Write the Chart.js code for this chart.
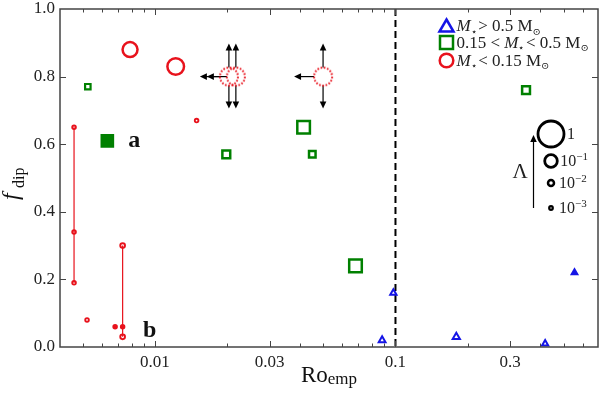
<!DOCTYPE html>
<html><head><meta charset="utf-8">
<script src="https://cdn.jsdelivr.net/npm/chart.js@4.4.0/dist/chart.umd.min.js"></script>
<style>html,body{margin:0;padding:0;background:#fff}#wrap{width:600px;height:396px;position:relative}</style>
</head><body><div id="wrap"><canvas id="c" width="600" height="396"></canvas></div>
<script>
// ---------- DATA ----------
const xTickValues = [0.01, 0.03, 0.1, 0.3];
const xTickLabels = ['0.01', '0.03', '0.1', '0.3'];
const yTickValues = [0, 0.2, 0.4, 0.6, 0.8, 1.0];
const yTickLabels = ['0.0', '0.2', '0.4', '0.6', '0.8', '1.0'];
const roBoundary = 0.1;

// M* > 0.5 Msun (blue triangles)
const hiRo = [0.088, 0.098, 0.179, 0.419, 0.555];
const hiF = [0.02, 0.16, 0.03, 0.01, 0.22];
const hiLambda = [0.012, 0.010, 0.014, 0.009, 0.006];
const hiFilled = [false, false, false, false, true];

// 0.15 < M* < 0.5 Msun (green squares)
const midRo = [0.00526, 0.00634, 0.0198, 0.0415, 0.0451, 0.349, 0.0682];
const midF = [0.77, 0.61, 0.57, 0.65, 0.57, 0.76, 0.24];
const midLambda = [0.006, 0.06, 0.019, 0.1, 0.012, 0.019, 0.1];
const midFilled = [false, true, false, false, false, false, false];

// M* < 0.15 Msun (red circles)
const loRo = [0.00788, 0.0122, 0.00461, 0.00461, 0.00461, 0.00522, 0.00683, 0.00734, 0.00734, 0.00734, 0.0149];
const loF = [0.88, 0.83, 0.65, 0.34, 0.19, 0.08, 0.06, 0.30, 0.06, 0.03, 0.67];
const loLambda = [0.15, 0.2, 0.001, 0.001, 0.001, 0.001, 0.001, 0.003, 0.001, 0.003, 0.001];
const loFilled = [false, false, false, false, false, false, true, false, true, false, false];

// limits (dotted red circles with arrows)
const limRo = [0.0203, 0.0217, 0.050];
const limF = [0.80, 0.80, 0.80];

// linked measurements of the same star
const linkRo = [0.00461, 0.00734];
const linkTop = [0.65, 0.30];
const linkBottom = [0.19, 0.03];

// letter labels attached to points
const letterText = ['a', 'b'];
const letterRo = [0.00634, 0.00734];
const letterF = [0.61, 0.06];

// size legend
const legendLambda = [1, 0.1, 0.01, 0.001];
const legendLambdaLabels = [['1', ''], ['10', '\u22121'], ['10', '\u22122'], ['10', '\u22123']];

// ---------- STYLE ----------
const RED = '#e8121c', GREEN = '#008000', BLUE = '#1515e6';
const SERIF = '"Liberation Serif", "DejaVu Serif", serif';
const FRAME = '#444';

function radius(l) {
  const g = Math.log10(l);
  const T = [[-3, 1.8], [-2, 3], [-1, 6.3], [0, 13]];
  let i = 0; if (g > -2) i = 1; if (g > -1) i = 2;
  const [g0, r0] = T[i], [g1, r1] = T[i + 1];
  return Math.max(1, r0 + (r1 - r0) * (g - g0) / (g1 - g0));
}
const bw = r => r > 5 ? 2.5 : (r > 2.5 ? 2.2 : 1.9);

function dottedCircle() {
  const c = document.createElement('canvas');
  c.width = 24; c.height = 24;
  const g = c.getContext('2d');
  g.strokeStyle = RED; g.lineWidth = 2; g.setLineDash([1.6, 1.7]);
  g.beginPath(); g.arc(12, 12, 9, 0, Math.PI * 2); g.stroke();
  return c;
}

function pts(xs, ys) { return xs.map((v, i) => ({ x: v, y: ys[i] })); }

const datasets = [];
datasets.push({
  label: 'hi', data: pts(hiRo, hiF), pointStyle: 'triangle', clip: false,
  pointRadius: hiLambda.map(l => radius(l) * 1.2),
  pointBorderWidth: hiLambda.map(l => 2),
  pointBorderColor: BLUE,
  pointBackgroundColor: hiFilled.map(f => f ? BLUE : 'rgba(0,0,0,0)')
});
datasets.push({
  label: 'mid', data: pts(midRo, midF), pointStyle: 'rect', clip: false,
  pointRadius: midLambda.map(l => radius(l) * Math.SQRT2),
  pointBorderWidth: midLambda.map(l => bw(radius(l) * 1.6)),
  pointBorderColor: GREEN,
  pointBackgroundColor: midFilled.map(f => f ? GREEN : 'rgba(0,0,0,0)')
});
datasets.push({
  label: 'lo', data: pts(loRo, loF), pointStyle: 'circle', clip: false,
  pointRadius: loLambda.map(l => radius(l)),
  pointBorderWidth: loLambda.map(l => bw(radius(l))),
  pointBorderColor: RED,
  pointBackgroundColor: loFilled.map(f => f ? RED : 'rgba(0,0,0,0)')
});
datasets.push({
  label: 'lim', data: pts(limRo, limF), pointStyle: dottedCircle(), clip: false, pointRadius: 9
});
linkRo.forEach((r, i) => {
  datasets.push({
    label: 'link' + i, data: [{ x: r, y: linkTop[i] }, { x: r, y: linkBottom[i] }],
    showLine: true, borderColor: RED, borderWidth: 1.2, pointRadius: 0, clip: false
  });
});

function arrow(ctx, x0, y0, x1, y1) {
  const ang = Math.atan2(y1 - y0, x1 - x0), L = 7, W = 3.3;
  ctx.beginPath(); ctx.moveTo(x0, y0);
  ctx.lineTo(x1 - Math.cos(ang) * L * 0.8, y1 - Math.sin(ang) * L * 0.8); ctx.stroke();
  ctx.beginPath();
  ctx.moveTo(x1, y1);
  ctx.lineTo(x1 - Math.cos(ang) * L - Math.sin(ang) * W, y1 - Math.sin(ang) * L + Math.cos(ang) * W);
  ctx.lineTo(x1 - Math.cos(ang) * L + Math.sin(ang) * W, y1 - Math.sin(ang) * L - Math.cos(ang) * W);
  ctx.closePath(); ctx.fill();
}

function runs(ctx, x, y, list, base) {
  for (const r of list) {
    const s = r.s || base;
    ctx.font = (r.b ? 'bold ' : '') + (r.i ? 'italic ' : '') + s + 'px ' + SERIF;
    ctx.fillText(r.t, x, y + (r.dy || 0));
    x += ctx.measureText(r.t).width + (r.gap || 0);
  }
  return x;
}
function runsWidth(ctx, list, base) {
  let w = 0;
  for (const r of list) {
    const s = r.s || base;
    ctx.font = (r.b ? 'bold ' : '') + (r.i ? 'italic ' : '') + s + 'px ' + SERIF;
    w += ctx.measureText(r.t).width + (r.gap || 0);
  }
  return w;
}

const deco = {
  id: 'deco',
  beforeDatasetsDraw(chart) {
    const { ctx, chartArea: a, scales: { x, y } } = chart;
    ctx.save();
    const px = x.getPixelForValue(roBoundary);
    ctx.strokeStyle = '#000'; ctx.lineWidth = 2; ctx.setLineDash([7, 4]);
    ctx.beginPath(); ctx.moveTo(px, a.top); ctx.lineTo(px, a.bottom); ctx.stroke();
    ctx.setLineDash([]);
    ctx.lineWidth = 1.2; ctx.strokeStyle = '#000'; ctx.fillStyle = '#000';
    limRo.forEach((r, i) => {
      const cx = x.getPixelForValue(r), cy = y.getPixelForValue(limF[i]);
      arrow(ctx, cx - 9, cy, cx - 29, cy);
      arrow(ctx, cx, cy - 9, cx, cy - 33);
      arrow(ctx, cx, cy + 9, cx, cy + 32);
    });
    ctx.restore();
  },
  afterDraw(chart) {
    const { ctx, chartArea: a, scales: { x, y } } = chart;
    ctx.save();
    // frame
    ctx.strokeStyle = FRAME; ctx.lineWidth = 1.5;
    ctx.strokeRect(a.left, a.top, a.right - a.left, a.bottom - a.top);
    // ticks
    ctx.lineWidth = 1;
    const tick = (px, len, horiz) => {
      ctx.beginPath();
      if (horiz) {
        ctx.moveTo(px, a.bottom); ctx.lineTo(px, a.bottom - len);
        ctx.moveTo(px, a.top); ctx.lineTo(px, a.top + len);
      } else {
        ctx.moveTo(a.left, px); ctx.lineTo(a.left + len, px);
        ctx.moveTo(a.right, px); ctx.lineTo(a.right - len, px);
      }
      ctx.stroke();
    };
    xTickValues.forEach(v => tick(Math.round(x.getPixelForValue(v)) + 0.5, 6, true));
    [0.001, 0.01, 0.1].forEach(d => {
      for (let k = 2; k <= 9; k++) {
        const v = k * d;
        if (v < x.min || v > x.max) continue;
        if (xTickValues.some(t => Math.abs(t - v) < 1e-9)) continue;
        tick(Math.round(x.getPixelForValue(v)) + 0.5, 3.5, true);
      }
    });
    yTickValues.slice(1, -1).forEach(v => tick(Math.round(y.getPixelForValue(v)) + 0.5, 6, false));

    ctx.fillStyle = '#111';
    ctx.textBaseline = 'alphabetic'; ctx.textAlign = 'left';
    // x title
    const xt = [{ t: 'Ro', s: 23 }, { t: 'emp', s: 17, dy: 2 }];
    const xw = runsWidth(ctx, xt, 23);
    runs(ctx, (a.left + a.right) / 2 - xw / 2, 382, xt, 23);
    // y title
    ctx.save();
    ctx.translate(18, (a.top + a.bottom) / 2 + 22);
    ctx.rotate(-Math.PI / 2);
    ctx.font = 'italic 24px ' + SERIF; ctx.fillText('f', 0, 0);
    ctx.font = '16px ' + SERIF; ctx.fillText('dip', 12, 6);
    ctx.restore();

    // letters
    ctx.font = 'bold 24px ' + SERIF;
    const ldy = [6, 10];
    letterText.forEach((t, i) => {
      const px = x.getPixelForValue(letterRo[i]) + 27, py = y.getPixelForValue(letterF[i]) + ldy[i];
      ctx.textAlign = 'center';
      ctx.fillText(t, px, py);
    });
    ctx.textAlign = 'left';

    // marker legend
    const mx = a.right - 151.5, rows = [a.top + 17, a.top + 33.5, a.top + 51.5];
    ctx.lineWidth = 2.5;
    ctx.strokeStyle = BLUE;
    ctx.beginPath(); ctx.moveTo(mx, rows[0] - 6.5); ctx.lineTo(mx + 7, rows[0] + 5.5); ctx.lineTo(mx - 7, rows[0] + 5.5); ctx.closePath(); ctx.stroke();
    ctx.strokeStyle = GREEN; ctx.strokeRect(mx - 6.5, rows[1] - 6.5, 13, 13);
    ctx.strokeStyle = RED; ctx.beginPath(); ctx.arc(mx, rows[2], 6.8, 0, Math.PI * 2); ctx.stroke();
    const star = { t: '\u22C6', s: 10, dy: 3.5, gap: 1.5 }, sun = { t: '\u2299', s: 10, dy: 3.5 };
    const lx = mx + 10;
    ctx.fillStyle = '#222';
    runs(ctx, lx, rows[0] + 5, [{ t: 'M', i: 1 }, star, { t: '> 0.5 M' }, sun], 17);
    runs(ctx, lx, rows[1] + 5, [{ t: '0.15 < ' }, { t: 'M', i: 1 }, star, { t: '< 0.5 M' }, sun], 17);
    runs(ctx, lx, rows[2] + 5, [{ t: 'M', i: 1 }, star, { t: '< 0.15 M' }, sun], 17);

    // size legend
    const cx = a.right - 47, cys = [a.top + 125, a.top + 152, a.top + 174, a.top + 199];
    ctx.strokeStyle = '#000'; ctx.fillStyle = '#222';
    legendLambda.forEach((l, i) => {
      const r = radius(l);
      ctx.lineWidth = bw(r) + 0.3;
      ctx.beginPath(); ctx.arc(cx, cys[i], r, 0, Math.PI * 2); ctx.stroke();
      const tx = Math.max(cx + r + 3, cx + 8);
      const [b, e] = legendLambdaLabels[i];
      const list = [{ t: b }];
      if (e) list.push({ t: e, s: 11, dy: -6.5 });
      runs(ctx, tx, cys[i] + 5, list, 16);
    });
    ctx.lineWidth = 1.2; ctx.fillStyle = '#000'; ctx.strokeStyle = '#000';
    arrow(ctx, a.right - 64.5, a.top + 199, a.right - 64.5, a.top + 126);
    ctx.font = '21px ' + SERIF; ctx.textAlign = 'center'; ctx.fillStyle = '#222';
    ctx.fillText('\u039B', a.right - 78, a.top + 169);
    ctx.restore();
  }
};

new Chart(document.getElementById('c'), {
  type: 'scatter',
  data: { datasets },
  options: {
    responsive: false, animation: false, events: [],
    layout: { autoPadding: false, padding: { top: 9, right: 2, left: 0, bottom: 0 } },
    plugins: { legend: { display: false }, tooltip: { enabled: false } },
    scales: {
      x: {
        type: 'logarithmic', min: 0.00403, max: 0.695, bounds: 'data',
        afterBuildTicks: s => { s.ticks = xTickValues.map(v => ({ value: v })); },
        afterFit: s => { s.height = 49; s.paddingLeft = 0; s.paddingRight = 0; },
        grid: { display: false, drawTicks: false }, border: { display: false },
        ticks: {
          autoSkip: false, maxRotation: 0, padding: 5, color: '#222',
          font: { family: SERIF, size: 17 },
          callback: (v, i) => xTickLabels[i]
        }
      },
      y: {
        type: 'linear', min: 0, max: 1,
        afterBuildTicks: s => { s.ticks = yTickValues.map(v => ({ value: v })); },
        afterFit: s => { s.width = 60; s.paddingTop = 0; s.paddingBottom = 0; },
        grid: { display: false, drawTicks: false }, border: { display: false },
        ticks: {
          padding: 5, color: '#222',
          font: { family: SERIF, size: 17 },
          callback: (v, i) => yTickLabels[i]
        }
      }
    }
  },
  plugins: [deco]
});
</script>
</body></html>
